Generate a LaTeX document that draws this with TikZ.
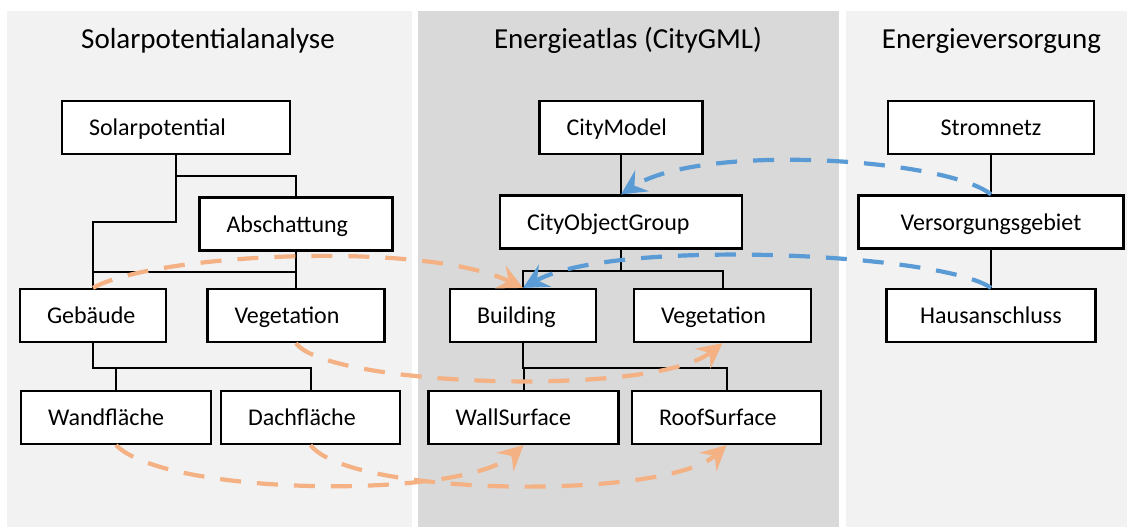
\documentclass[tikz,border=0pt]{standalone}
\usepackage{fontspec}
\setmainfont{Carlito}
\usetikzlibrary{arrows.meta}
\definecolor{panellight}{HTML}{F2F2F2}
\definecolor{paneldark}{HTML}{D9D9D9}
\definecolor{linkorange}{HTML}{F4B183}
\definecolor{linkblue}{HTML}{5B9BD5}
\newcommand{\boxfont}{\fontsize{24}{28}\selectfont}
\newcommand{\headfont}{\fontsize{29}{34}\selectfont}
\tikzset{
	box/.style={draw, fill=white, line width=2.2pt, inner xsep=27pt, inner ysep=0pt,
		minimum height=53pt, text height=22.4pt, text depth=6pt, align=left, font=\boxfont},
	tree/.style={line width=2pt},
	link/.style={line width=4.2pt, dash pattern=on 21pt off 16pt,
		-{Stealth[length=25pt, width=25pt, inset=9pt]}},
}

\begin{document}
\begin{tikzpicture}[x=1pt, y=-1pt]
	\useasboundingbox (0,0) rectangle (1127,527);
	% three columns
	\fill[panellight] (7,11) rectangle (412,527);
	\fill[paneldark] (418,11) rectangle (839,527);
	\fill[panellight] (846,11) rectangle (1127,527);
	\node[anchor=base, font=\headfont] (hsolar) at (208,48.5) {Solarpotentialanalyse};
	\node[anchor=base, font=\headfont] (hatlas) at (628,48.5) {Energieatlas (CityGML)};
	\node[anchor=base, font=\headfont] (hgrid) at (991.5,48.5) {Energieversorgung};
	% classes, flush left
	\foreach \nm/\x/\y/\w/\lbl in {sp/176/127.5/174/Solarpotential, absch/296/224/139/Abschattung,
		geb/93/315.5/92/Gebäude, vegl/296/315.5/123/Vegetation, wand/116/417.5/136/Wandfläche,
		dach/310.5/417.5/125/Dachfläche, cm/621/127.5/109/CityModel, cog/621/222/188/CityObjectGroup,
		bldg/523/315.5/92/Building, vegm/722.5/315.5/123/Vegetation, wall/523.5/417.5/136/WallSurface,
		roof/726.5/417.5/135/RoofSurface}
	{\node[box, text width=\w pt] (\nm) at (\x,\y) {\lbl};}
	% grid side, centred
	\foreach \nm/\y/\w/\lbl in {sn/127.5/206/Stromnetz, vg/222/265/Versorgungsgebiet, ha/315.5/209/Hausanschluss}
	{\node[box, align=center, minimum width=\w pt] (\nm) at (991,\y) {\lbl};}
	% hierarchy
	\draw[tree] (sp.south) -- ++(0,21) -| (absch.north);
	\draw[tree] (sp.south) -- ++(0,67) -| (geb.north);
	\draw[tree] (absch.south) -- (vegl.north);
	\draw[tree] (absch.south) -- ++(0,20) -| (geb.north);
	\draw[tree] (cm.south) -- (cog.north);
	\draw[tree] (sn.south) -- (vg.north);
	\draw[tree] (vg.south) -- (ha.north);
	\foreach \a/\b/\h in {geb/wand/25, geb/dach/25, cog/bldg/21, cog/vegm/21, bldg/wall/25, bldg/roof/25}
	{\draw[tree] (\a.south) -- ++(0,\h) -| (\b.north);}
	% mappings
	\draw[link, linkorange] (geb.north) .. controls +(60,-34) and +(-100,-48) .. (bldg.north);
	\draw[link, linkorange] (vegl.south) .. controls +(30,43) and +(-70,55) .. (vegm.south);
	\draw[link, linkorange] (wand.south) .. controls +(50,51) and +(-60,55) .. (wall.south);
	\draw[link, linkorange] (dach.south) .. controls +(40,52) and +(-60,55) .. (roof.south);
	\draw[link, linkblue] (vg.north) .. controls +(-45,-36) and +(80,-52) .. (cog.north);
	\draw[link, linkblue] (ha.north) .. controls +(-50,-35) and +(90,-50) .. (bldg.north);
\end{tikzpicture}
\end{document}
